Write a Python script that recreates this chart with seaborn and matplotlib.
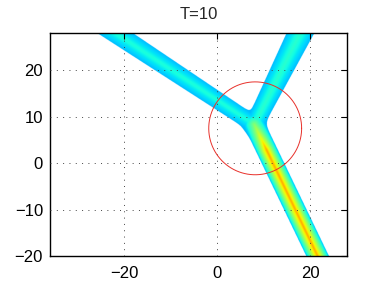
import numpy as np
import matplotlib
matplotlib.use('Agg')
import matplotlib.pyplot as plt
import seaborn as sns

# Y-shaped density at T=10: junction and three branches
junction = [7.9, 8.3]
branch_dir = [[0.48, -1.0], [0.50, 1.0], [-1.0, 0.66]]   # lower, upper-right, upper-left
branch_halfwidth = [2.2, 1.9, 1.75]    # half-width near the junction
branch_spread = [0.0, 0.035, 0.01]     # widening per unit of length
branch_peak = [0.73, 0.40, 0.385]      # centre level far from the junction
branch_peak_at_junction = [0.52, 0.40, 0.385]
edge_level = 0.31

# observation circle
circle_center = [8.2, 7.5]
circle_radius = 10.0

xlim = (-36, 28)
ylim = (-20, 28)
xticks = [-20, 0, 20]
yticks = [-20, -10, 0, 10, 20]

sns.set_style('white')
plt.rcParams['font.family'] = ['Liberation Sans', 'DejaVu Sans']

# build density field
xs = np.linspace(xlim[0], xlim[1], 1280)
ys = np.linspace(ylim[0], ylim[1], 960)
X, Y = np.meshgrid(xs, ys)
vals, dnorm = [], []
for d, w0, g, pk, pk0 in zip(branch_dir, branch_halfwidth, branch_spread,
                             branch_peak, branch_peak_at_junction):
    d = np.array(d) / np.hypot(*d)
    px, py = X - junction[0], Y - junction[1]
    t = np.clip(px * d[0] + py * d[1], 0, None)
    w = w0 + g * t
    dn = np.hypot(px - t * d[0], py - t * d[1]) / w
    peak = pk0 + (pk - pk0) * np.clip(t / 6, 0, 1)
    dnorm.append(dn)
    vals.append(edge_level + (peak - edge_level) * np.clip(1 - dn, 0, 1))
k = 0.22
dsmooth = -k * np.log(sum(np.exp(-dn / k) for dn in dnorm))
field = np.max(vals, axis=0)
field = np.where(dsmooth <= 1, field, np.nan)

fig = plt.figure(figsize=(3.84, 2.88), dpi=100)
ax = fig.add_axes([0.13, 0.111, 0.774, 0.774])

cmap = plt.get_cmap('jet').copy()
cmap.set_bad('white')
ax.imshow(np.ma.masked_invalid(field), origin='lower', cmap=cmap, vmin=0, vmax=1,
          extent=[xlim[0], xlim[1], ylim[0], ylim[1]], aspect='auto',
          interpolation='antialiased', interpolation_stage='rgba', zorder=1)

theta = np.linspace(0, 2 * np.pi, 200)
sns.lineplot(x=circle_center[0] + circle_radius * np.cos(theta),
             y=circle_center[1] + circle_radius * np.sin(theta),
             sort=False, estimator=None, color='#e8302a', linewidth=0.7, ax=ax, zorder=3)

ax.set_xlim(xlim)
ax.set_ylim(ylim)
ax.set_xticks(xticks)
ax.set_yticks(yticks)
ax.grid(True, color='#444444', linestyle=(0, (1, 5.5)), linewidth=0.7, zorder=2)
ax.set_axisbelow(False)
ax.tick_params(direction='in', length=4, width=0.8, top=True, right=True,
               labelsize=12, colors='black')
ax.tick_params(axis='x', pad=7)
ax.tick_params(axis='y', pad=5)
for s in ax.spines.values():
    s.set_color('black')
    s.set_linewidth(1.0)
ax.set_title('T=10', fontsize=12, pad=10)
ax.set_xlabel('')
ax.set_ylabel('')

fig.savefig('out.png', dpi=100)
